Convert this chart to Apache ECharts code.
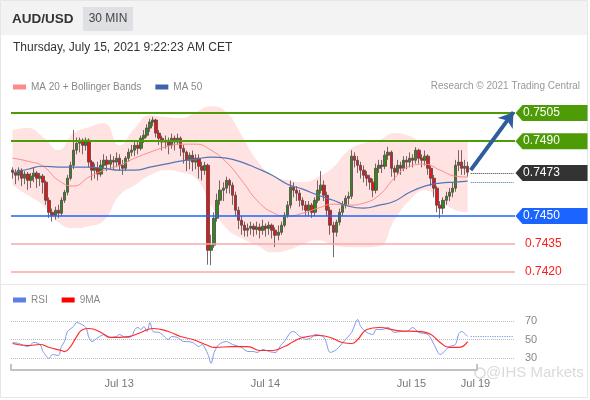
<!DOCTYPE html>
<html>
<head>
<meta charset="utf-8">
<script src="https://cdn.jsdelivr.net/npm/echarts@6/dist/echarts.min.js"></script>
<style>
  html, body { margin: 0; padding: 0; background: #fff; }
  #chart { width: 590px; height: 400px; }
</style>
</head>
<body>
<div id="chart"></div>
<script>
  // 30 min candles, Jul 12 06:30 -> Jul 15 09:00, [open, close, low, high]
  const candles = [
    [0.74745, 0.74734, 0.74700, 0.74760], [0.74734, 0.74718, 0.74670, 0.74750], [0.74718, 0.74745, 0.74690, 0.74760],
    [0.74745, 0.74702, 0.74660, 0.74755], [0.74702, 0.74724, 0.74670, 0.74740], [0.74724, 0.74691, 0.74640, 0.74735],
    [0.74691, 0.74713, 0.74650, 0.74730], [0.74713, 0.74729, 0.74680, 0.74760], [0.74729, 0.74702, 0.74650, 0.74740],
    [0.74702, 0.74713, 0.74660, 0.74730], [0.74713, 0.74681, 0.74620, 0.74725], [0.74681, 0.74584, 0.74560, 0.74690],
    [0.74584, 0.74520, 0.74490, 0.74600], [0.74520, 0.74504, 0.74470, 0.74540], [0.74504, 0.74531, 0.74480, 0.74550],
    [0.74531, 0.74515, 0.74490, 0.74560], [0.74515, 0.74584, 0.74500, 0.74600], [0.74584, 0.74627, 0.74570, 0.74640],
    [0.74627, 0.74702, 0.74610, 0.74720], [0.74702, 0.74771, 0.74690, 0.74790], [0.74771, 0.74852, 0.74750, 0.74960],
    [0.74852, 0.74889, 0.74830, 0.74920], [0.74889, 0.74905, 0.74840, 0.74920], [0.74905, 0.74878, 0.74830, 0.74915],
    [0.74878, 0.74905, 0.74850, 0.74920], [0.74905, 0.74788, 0.74760, 0.74915], [0.74788, 0.74745, 0.74690, 0.74800],
    [0.74745, 0.74755, 0.74700, 0.74780], [0.74755, 0.74724, 0.74690, 0.74790], [0.74724, 0.74771, 0.74710, 0.74800],
    [0.74771, 0.74798, 0.74750, 0.74830], [0.74798, 0.74777, 0.74740, 0.74820], [0.74777, 0.74798, 0.74750, 0.74830],
    [0.74798, 0.74788, 0.74750, 0.74820], [0.74788, 0.74809, 0.74760, 0.74840], [0.74809, 0.74771, 0.74740, 0.74830],
    [0.74771, 0.74755, 0.74720, 0.74800], [0.74755, 0.74809, 0.74740, 0.74820], [0.74809, 0.74841, 0.74790, 0.74860],
    [0.74841, 0.74852, 0.74820, 0.74880], [0.74852, 0.74878, 0.74820, 0.74900], [0.74878, 0.74862, 0.74830, 0.74900],
    [0.74862, 0.74916, 0.74850, 0.74930], [0.74916, 0.74932, 0.74890, 0.74960], [0.74932, 0.74970, 0.74920, 0.74990],
    [0.74970, 0.75002, 0.74950, 0.75020], [0.75002, 0.75013, 0.74980, 0.75030], [0.75013, 0.74943, 0.74920, 0.75020],
    [0.74943, 0.74916, 0.74880, 0.74960], [0.74916, 0.74895, 0.74850, 0.74930], [0.74895, 0.74905, 0.74860, 0.74930],
    [0.74905, 0.74878, 0.74830, 0.74920], [0.74878, 0.74916, 0.74860, 0.74940], [0.74916, 0.74895, 0.74850, 0.74930],
    [0.74895, 0.74916, 0.74880, 0.74940], [0.74916, 0.74862, 0.74820, 0.74925], [0.74862, 0.74841, 0.74780, 0.74880],
    [0.74841, 0.74798, 0.74740, 0.74850], [0.74798, 0.74825, 0.74750, 0.74840], [0.74825, 0.74788, 0.74740, 0.74850],
    [0.74788, 0.74809, 0.74750, 0.74830], [0.74809, 0.74766, 0.74700, 0.74830], [0.74766, 0.74745, 0.74690, 0.74790],
    [0.74745, 0.74771, 0.74720, 0.74790], [0.74771, 0.74317, 0.74240, 0.74780], [0.74317, 0.74344, 0.74237, 0.74400],
    [0.74344, 0.74488, 0.74330, 0.74520], [0.74488, 0.74584, 0.74470, 0.74620], [0.74584, 0.74638, 0.74560, 0.74690],
    [0.74638, 0.74649, 0.74580, 0.74680], [0.74649, 0.74691, 0.74620, 0.74710], [0.74691, 0.74665, 0.74620, 0.74700],
    [0.74665, 0.74611, 0.74560, 0.74680], [0.74611, 0.74531, 0.74500, 0.74630], [0.74531, 0.74477, 0.74430, 0.74550],
    [0.74477, 0.74451, 0.74400, 0.74500], [0.74451, 0.74424, 0.74390, 0.74470], [0.74424, 0.74435, 0.74390, 0.74460],
    [0.74435, 0.74445, 0.74400, 0.74470], [0.74445, 0.74429, 0.74390, 0.74460], [0.74429, 0.74440, 0.74400, 0.74470],
    [0.74440, 0.74424, 0.74380, 0.74460], [0.74424, 0.74445, 0.74400, 0.74480], [0.74445, 0.74435, 0.74390, 0.74460],
    [0.74435, 0.74451, 0.74400, 0.74470], [0.74451, 0.74424, 0.74380, 0.74460], [0.74424, 0.74397, 0.74334, 0.74440],
    [0.74397, 0.74413, 0.74370, 0.74450], [0.74413, 0.74451, 0.74400, 0.74470], [0.74451, 0.74504, 0.74440, 0.74520],
    [0.74504, 0.74558, 0.74490, 0.74580], [0.74558, 0.74654, 0.74540, 0.74690], [0.74654, 0.74638, 0.74600, 0.74680],
    [0.74638, 0.74622, 0.74580, 0.74660], [0.74622, 0.74584, 0.74550, 0.74640], [0.74584, 0.74558, 0.74530, 0.74600],
    [0.74558, 0.74531, 0.74500, 0.74580], [0.74531, 0.74558, 0.74500, 0.74580], [0.74558, 0.74520, 0.74490, 0.74570],
    [0.74520, 0.74584, 0.74500, 0.74600], [0.74584, 0.74638, 0.74570, 0.74690], [0.74638, 0.74665, 0.74620, 0.74740],
    [0.74665, 0.74611, 0.74580, 0.74690], [0.74611, 0.74531, 0.74500, 0.74630], [0.74531, 0.74451, 0.74400, 0.74550],
    [0.74451, 0.74413, 0.74280, 0.74470], [0.74413, 0.74467, 0.74390, 0.74480], [0.74467, 0.74520, 0.74450, 0.74540],
    [0.74520, 0.74558, 0.74500, 0.74580], [0.74558, 0.74595, 0.74540, 0.74610], [0.74595, 0.74606, 0.74560, 0.74630],
    [0.74606, 0.74820, 0.74590, 0.74852], [0.74820, 0.74798, 0.74760, 0.74840], [0.74798, 0.74771, 0.74730, 0.74820],
    [0.74771, 0.74745, 0.74700, 0.74790], [0.74745, 0.74718, 0.74680, 0.74770], [0.74718, 0.74702, 0.74660, 0.74740],
    [0.74702, 0.74681, 0.74640, 0.74720], [0.74681, 0.74638, 0.74600, 0.74700], [0.74638, 0.74755, 0.74620, 0.74780],
    [0.74755, 0.74771, 0.74730, 0.74800], [0.74771, 0.74766, 0.74730, 0.74800], [0.74766, 0.74825, 0.74750, 0.74850],
    [0.74825, 0.74841, 0.74800, 0.74870], [0.74841, 0.74755, 0.74710, 0.74850], [0.74755, 0.74734, 0.74690, 0.74770],
    [0.74734, 0.74771, 0.74720, 0.74800], [0.74771, 0.74755, 0.74720, 0.74790], [0.74755, 0.74798, 0.74740, 0.74820],
    [0.74798, 0.74788, 0.74750, 0.74820], [0.74788, 0.74809, 0.74760, 0.74840], [0.74809, 0.74798, 0.74760, 0.74830],
    [0.74798, 0.74852, 0.74780, 0.74868], [0.74852, 0.74809, 0.74780, 0.74860], [0.74809, 0.74798, 0.74760, 0.74830],
    [0.74798, 0.74820, 0.74770, 0.74850], [0.74820, 0.74755, 0.74720, 0.74830], [0.74755, 0.74702, 0.74660, 0.74770],
    [0.74702, 0.74649, 0.74600, 0.74720], [0.74649, 0.74558, 0.74520, 0.74660], [0.74558, 0.74542, 0.74488, 0.74580],
    [0.74542, 0.74584, 0.74510, 0.74600], [0.74584, 0.74606, 0.74560, 0.74630], [0.74606, 0.74627, 0.74580, 0.74650],
    [0.74627, 0.74649, 0.74600, 0.74680], [0.74649, 0.74771, 0.74630, 0.74800], [0.74771, 0.74788, 0.74740, 0.74852],
    [0.74788, 0.74755, 0.74720, 0.74852], [0.74755, 0.74766, 0.74720, 0.74800], [0.74766, 0.74734, 0.74710, 0.74790]
  ]

  // indicator values read every 5 candles
  const bandIdx = [0, 5, 10, 15, 20, 25, 30, 35, 40, 45, 50, 55, 60, 65, 70, 75, 80, 85, 90, 95, 100, 105, 110, 115, 120, 125, 130, 135, 140, 145, 149]
  const bbUpper = [0.74959, 0.74970, 0.74922, 0.74852, 0.74943, 0.74975, 0.74996, 0.74878, 0.74970, 0.75039, 0.75029, 0.75023, 0.75055, 0.75087, 0.75055, 0.74932,
    0.74798, 0.74718, 0.74691, 0.74681, 0.74708, 0.74761, 0.74852, 0.74889, 0.74905, 0.74943, 0.74927, 0.74895, 0.74895, 0.74895, 0.74895]
  const bbLower = [0.74665, 0.74611, 0.74558, 0.74467, 0.74435, 0.74445, 0.74477, 0.74611, 0.74665, 0.74718, 0.74745, 0.74734, 0.74702, 0.74558, 0.74435, 0.74381,
    0.74344, 0.74306, 0.74317, 0.74349, 0.74370, 0.74344, 0.74333, 0.74333, 0.74338, 0.74477, 0.74584, 0.74638, 0.74584, 0.74531, 0.74520]
  const ma20 = [0.74809, 0.74793, 0.74766, 0.74691, 0.74660, 0.74708, 0.74745, 0.74771, 0.74809, 0.74841, 0.74868, 0.74884, 0.74884, 0.74852, 0.74788, 0.74691,
    0.74584, 0.74520, 0.74499, 0.74515, 0.74542, 0.74563, 0.74558, 0.74569, 0.74611, 0.74702, 0.74766, 0.74777, 0.74745, 0.74713, 0.74708]
  const ma50 = [0.74729, 0.74750, 0.74766, 0.74761, 0.74761, 0.74761, 0.74755, 0.74745, 0.74745, 0.74761, 0.74777, 0.74793, 0.74804, 0.74815, 0.74809, 0.74788,
    0.74755, 0.74718, 0.74670, 0.74644, 0.74611, 0.74584, 0.74552, 0.74542, 0.74558, 0.74579, 0.74627, 0.74660, 0.74676, 0.74681, 0.74686]

  const rsiIdx = [0, 2, 5, 7, 9, 10, 12, 13, 15, 16, 17, 18, 20, 21, 22, 24, 25, 26, 28, 30, 32, 34, 35, 37, 39, 40, 41, 42, 43, 44, 45, 46, 48, 49, 51, 52, 54,
    56, 57, 59, 61, 62, 64, 65, 66, 67, 68, 70, 72, 75, 77, 79, 80, 82, 84, 86, 88, 89, 91, 92, 94, 95, 96, 98, 99, 102, 104, 106, 109, 111, 113, 114, 116,
    118, 119, 121, 123, 125, 127, 129, 131, 133, 136, 138, 140, 142, 143, 145, 146, 147, 149]
  const rsi = [46.8, 45.7, 42.4, 46.8, 44.6, 37.0, 29.5, 33.8, 32.7, 42.4, 47.8, 58.6, 64.1, 68.4, 67.3, 63.0, 52.2, 47.8, 52.2, 55.4, 52.2, 53.2, 55.4, 52.2,
    53.2, 60.8, 63.0, 60.8, 64.1, 58.6, 68.4, 58.6, 57.6, 55.4, 50.0, 53.2, 52.2, 47.8, 47.8, 46.8, 42.4, 44.6, 33.8, 24.1, 35.9, 42.4, 45.7, 47.8, 44.6,
    41.4, 37.0, 37.0, 35.9, 39.2, 37.0, 35.9, 44.6, 47.8, 57.6, 58.6, 53.2, 52.2, 50.0, 52.2, 55.4, 52.2, 36.0, 39.0, 50.0, 57.6, 71.6, 64.0, 57.6, 55.4,
    60.8, 60.8, 63.0, 57.6, 58.6, 58.6, 63.0, 57.6, 55.4, 44.6, 33.8, 39.2, 42.4, 44.6, 55.4, 58.6, 53.2]
  const ma9Idx = [0, 5, 9, 12, 16, 17, 19, 21, 23, 25, 29, 32, 38, 42, 46, 51, 55, 59, 64, 66, 72, 77, 81, 85, 89, 92, 95, 100, 104, 108, 111, 113, 116, 120,
    126, 134, 137, 140, 143, 146, 149]
  const ma9 = [45.7, 43.5, 44.6, 41.4, 38.1, 37.0, 42.4, 53.2, 60.8, 61.9, 57.6, 52.2, 53.2, 57.6, 61.9, 58.6, 53.2, 50.0, 43.5, 41.4, 42.4, 42.4, 38.1,
    38.1, 42.4, 47.8, 52.2, 54.3, 52.2, 46.8, 45.7, 50.0, 60.8, 63.0, 59.7, 58.6, 55.4, 46.8, 41.4, 41.4, 47.8]

  // levels
  const tagLevels = [
    { value: 0.7505, color: '#4e9b08' },
    { value: 0.7490, color: '#4e9b08' },
    { value: 0.7473, color: '#333333' },
    { value: 0.7450, color: '#1c64ff' }
  ]
  const redLevels = [0.7435, 0.7420]
  const lastPrice = 0.7473
  const lastMa50 = 0.7468
  const lastRsi = 53.2
  const arrowFrom = [150, 0.74745]
  const arrowTo = [164, 0.75055]

  const xTicks = [[35, 'Jul 13'], [83, 'Jul 14'], [131, 'Jul 15'], [152, 'Jul 19']]

  // 150 candles + empty slots on the right
  const slotCount = 165
  const categories = []
  const t0 = new Date(2021, 6, 12, 6, 30).getTime()
  for (let i = 0; i < slotCount; i++) {
    const d = new Date(t0 + i * 1800000)
    categories.push((d.getMonth() + 1) + '/' + d.getDate() + ' ' + d.getHours() + ':' + String(d.getMinutes()).padStart(2, '0'))
  }
  const tickMap = {}
  xTicks.forEach(t => { tickMap[t[0]] = t[1] })

  const pairs = (idx, vals) => idx.map((x, k) => [x, vals[k]])
  const bandRange = bbUpper.map((v, k) => +(v - bbLower[k]).toFixed(5))
  const fmt = v => v.toFixed(4)
  const lastIdx = candles.length - 1
  const tagIdx = slotCount - 1

  const chart = echarts.init(document.getElementById('chart'))
  const font = 'Liberation Sans, Arial, sans-serif'

  chart.setOption({
    animation: false,
    textStyle: { fontFamily: font },
    graphic: [
      { type: 'rect', shape: { x: 0.5, y: 0.5, width: 587, height: 397 }, style: { fill: '#fff', stroke: '#e6e6e6', lineWidth: 1 }, z: -10 },
      { type: 'rect', shape: { x: 1, y: 1, width: 586, height: 34 }, style: { fill: '#f3f3f3' }, z: -9 },
      { type: 'rect', shape: { x: 83, y: 7, width: 50, height: 24 }, style: { fill: '#dfe0e4' }, z: -8 },
      { type: 'text', x: 12, y: 19, style: { text: 'AUD/USD', fill: '#333', font: 'bold 13.5px ' + font, textVerticalAlign: 'middle' } },
      { type: 'text', x: 108, y: 19, style: { text: '30 MIN', fill: '#444', font: '12px ' + font, textAlign: 'center', textVerticalAlign: 'middle' } },
      { type: 'text', x: 13, y: 48, style: { text: 'Thursday, July 15, 2021 9:22:23 AM CET', fill: '#333', font: '12px ' + font, textVerticalAlign: 'middle' } },
      { type: 'text', x: 580, y: 86, style: { text: 'Research \u00a9 2021 Trading Central', fill: '#999', font: '10px ' + font, textAlign: 'right', textVerticalAlign: 'middle' } },
      { type: 'line', shape: { x1: 1, y1: 284.5, x2: 587, y2: 284.5 }, style: { stroke: '#e8e8e8', lineWidth: 1 } },
      { type: 'circle', shape: { cx: 480, cy: 373, r: 5 }, style: { fill: 'none', stroke: '#dadada', lineWidth: 1.5 } },
      { type: 'text', x: 486, y: 373, style: { text: '@IHS Markets', fill: '#dadada', font: '15px ' + font, textVerticalAlign: 'middle' } }
    ],
    legend: [
      {
        left: 13, top: 82, padding: 0, itemGap: 14, itemWidth: 13, itemHeight: 5, icon: 'rect',
        data: ['MA 20 + Bollinger Bands', 'MA 50'],
        textStyle: { color: '#888', fontSize: 10 }
      },
      {
        left: 13, top: 295, padding: 0, itemGap: 14, itemWidth: 13, itemHeight: 5, icon: 'rect',
        data: ['RSI', '9MA'],
        textStyle: { color: '#888', fontSize: 10 }
      }
    ],
    grid: [
      { left: 11, right: 75, top: 100, height: 183 },
      { left: 11, right: 75, top: 321, height: 37 },
      { left: 11, width: 466, top: 369, height: 1 }
    ],
    xAxis: [
      { type: 'category', gridIndex: 0, data: categories, show: false },
      { type: 'category', gridIndex: 1, data: categories, show: false },
      {
        type: 'category', gridIndex: 2, data: categories.slice(0, 153),
        axisLine: { lineStyle: { color: '#c2c2c2', width: 2 } },
        axisTick: { show: true, inside: true, length: 6, interval: i => i === 0, lineStyle: { color: '#c2c2c2', width: 2 } },
        axisLabel: {
          color: '#777', fontSize: 11, margin: 8,
          interval: i => tickMap[i] !== undefined,
          formatter: (v, i) => tickMap[i] || ''
        },
        splitLine: { show: false }
      }
    ],
    yAxis: [
      { type: 'value', gridIndex: 0, min: 0.74142, max: 0.7512, show: false, splitLine: { show: false } },
      {
        type: 'value', gridIndex: 1, min: 30, max: 70, interval: 20, position: 'right',
        axisLine: { show: false }, axisTick: { show: false },
        axisLabel: { color: '#888', fontSize: 11, margin: 10 },
        splitLine: { lineStyle: { type: 'dotted', color: '#bdbdbd' } }
      },
      { type: 'value', gridIndex: 2, show: false }
    ],
    series: [
      {
        name: 'bbLow', type: 'line', xAxisIndex: 0, yAxisIndex: 0, stack: 'bb', smooth: true, symbol: 'none', z: 1,
        data: pairs(bandIdx, bbLower), lineStyle: { opacity: 0 }, silent: true
      },
      {
        name: 'bbBand', type: 'line', xAxisIndex: 0, yAxisIndex: 0, stack: 'bb', smooth: true, symbol: 'none', z: 1,
        data: pairs(bandIdx, bandRange), lineStyle: { opacity: 0 }, areaStyle: { color: '#ffe2e2', opacity: 1 }, silent: true
      },
      {
        name: 'AUD/USD', type: 'candlestick', xAxisIndex: 0, yAxisIndex: 0, barWidth: 3, z: 3,
        data: candles,
        itemStyle: {
          color: '#2f8a1c', color0: '#e3171b',
          borderColor: 'rgba(85,68,68,0.8)', borderColor0: 'rgba(85,68,68,0.8)', borderWidth: 1
        },
        markLine: {
          silent: true, symbol: ['none', 'none'], precision: 5,
          data: [
            ...tagLevels.filter(l => l.value !== lastPrice).map(l => ({
              yAxis: l.value, label: { show: false },
              lineStyle: { color: l.color, width: l.color === '#1c64ff' ? 1.5 : 2, type: 'solid' }
            })),
            ...redLevels.map(v => ({
              yAxis: v,
              lineStyle: { color: '#f9a9a9', width: 1.5, type: 'solid' },
              label: { show: true, position: 'end', distance: 10, formatter: fmt(v), color: '#ff1a1a', fontSize: 12 }
            })),
            [
              { coord: [lastIdx + 1, lastPrice], lineStyle: { color: '#333', width: 1, type: 'dotted' }, label: { show: false } },
              { coord: [tagIdx, lastPrice] }
            ],
            [
              { coord: [lastIdx + 1, lastMa50], lineStyle: { color: '#4d6fb0', width: 1, type: 'dotted' }, label: { show: false } },
              { coord: [tagIdx, lastMa50] }
            ],
            [
              { coord: arrowFrom, symbol: 'none', lineStyle: { color: '#2f5c9c', width: 4, type: 'solid' }, label: { show: false } },
              { coord: arrowTo, symbol: 'arrow', symbolSize: [14, 14] }
            ]
          ]
        },
        markPoint: {
          silent: true,
          symbol: 'path://M0,8 L7,0 L72,0 L72,16 L7,16 Z',
          symbolSize: [72, 16],
          symbolOffset: [38, 0],
          data: tagLevels.map(l => ({
            coord: [tagIdx, l.value], value: l.value,
            itemStyle: { color: l.color },
            label: { show: true, position: 'inside', offset: [-10, 0], formatter: fmt(l.value), color: '#fff', fontSize: 12 }
          }))
        }
      },
      {
        name: 'MA 20 + Bollinger Bands', type: 'line', xAxisIndex: 0, yAxisIndex: 0, smooth: true, symbol: 'none', z: 4,
        data: pairs(bandIdx, ma20), itemStyle: { color: '#ff8a8a' }, lineStyle: { color: '#ff8a8a', width: 1 }
      },
      {
        name: 'MA 50', type: 'line', xAxisIndex: 0, yAxisIndex: 0, smooth: true, symbol: 'none', z: 4,
        data: pairs(bandIdx, ma50), itemStyle: { color: '#3f64a8' }, lineStyle: { color: '#5575b5', width: 1.2 }
      },
      {
        name: 'RSI', type: 'line', xAxisIndex: 1, yAxisIndex: 1, smooth: 0.3, symbol: 'none', clip: false,
        data: pairs(rsiIdx, rsi), itemStyle: { color: '#5b80e6' }, lineStyle: { color: '#7b9aea', width: 1 },
        markLine: {
          silent: true, symbol: ['none', 'none'], precision: 2,
          data: [[
            { coord: [lastIdx + 1, lastRsi], lineStyle: { color: '#7b9aea', width: 1.2, type: 'dotted' }, label: { show: false } },
            { coord: [tagIdx, lastRsi] }
          ]]
        }
      },
      {
        name: '9MA', type: 'line', xAxisIndex: 1, yAxisIndex: 1, smooth: true, symbol: 'none', clip: false,
        data: pairs(ma9Idx, ma9), itemStyle: { color: '#ff0000' }, lineStyle: { color: '#ff2a2a', width: 1.2 }
      }
    ]
  })
</script>
</body>
</html>
